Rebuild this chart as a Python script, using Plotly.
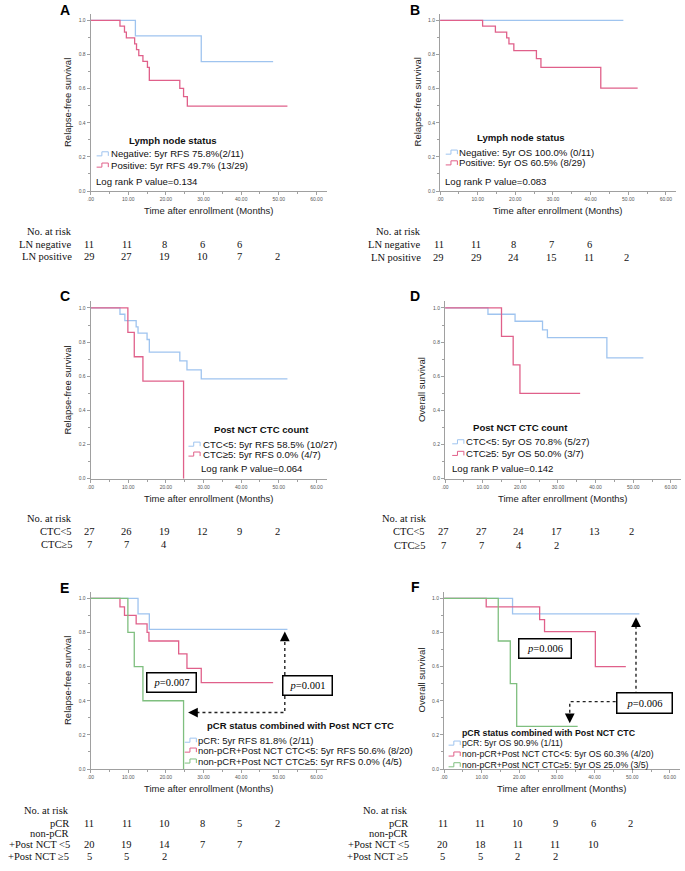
import plotly.graph_objects as go

W, H = 685, 871

# ---------------- data ----------------
# Panel A: RFS by lymph node status
A_neg_t = [0, 11.9, 29.4, 48.5]
A_neg_s = [1.0, 0.909, 0.758, 0.758]
A_pos_t = [0, 7.8, 9.0, 9.5, 11.7, 12.2, 12.8, 13.9, 15.1, 15.6, 23.7, 24.7, 25.7, 52.3]
A_pos_s = [1.0, 0.966, 0.931, 0.897, 0.862, 0.828, 0.793, 0.759, 0.724, 0.648, 0.601, 0.553, 0.497, 0.497]
# Panel B: OS by lymph node status
B_neg_t = [0, 48.7]
B_neg_s = [1.0, 1.0]
B_pos_t = [0, 11.3, 14.7, 17.7, 18.3, 19.6, 25.6, 26.8, 42.7, 52.5]
B_pos_s = [1.0, 0.966, 0.931, 0.897, 0.862, 0.822, 0.776, 0.724, 0.603, 0.603]
# Panel C: RFS by post NCT CTC count
C_lo_t = [0, 7.8, 9.1, 12.1, 12.6, 15.0, 15.6, 23.7, 25.6, 29.4, 52.3]
C_lo_s = [1.0, 0.963, 0.926, 0.889, 0.852, 0.815, 0.741, 0.690, 0.637, 0.585, 0.585]
C_hi_t = [0, 9.9, 11.6, 13.9, 24.7]
C_hi_s = [1.0, 0.857, 0.714, 0.571, 0.0]
# Panel D: OS by post NCT CTC count
D_lo_t = [0, 11.4, 18.6, 25.9, 27.2, 43.0, 52.7]
D_lo_s = [1.0, 0.963, 0.922, 0.872, 0.826, 0.708, 0.708]
D_hi_t = [0, 15.0, 18.1, 19.9, 35.9]
D_hi_s = [1.0, 0.833, 0.667, 0.5, 0.5]
# Panel E: RFS by pCR status combined with CTC
E_pcr_t = [0, 12.6, 15.6, 52.3]
E_pcr_s = [1.0, 0.909, 0.818, 0.818]
E_lo_t = [0, 7.8, 9.0, 12.1, 15.0, 15.5, 23.4, 25.6, 29.4, 48.5]
E_lo_s = [1.0, 0.95, 0.90, 0.85, 0.80, 0.75, 0.675, 0.59, 0.506, 0.506]
E_hi_t = [0, 9.9, 11.6, 13.9, 24.7]
E_hi_s = [1.0, 0.8, 0.6, 0.4, 0.0]
# Panel F: OS by pCR status combined with CTC
F_pcr_t = [0, 18.2, 51.9]
F_pcr_s = [1.0, 0.909, 0.909]
F_lo_t = [0, 11.2, 25.4, 26.7, 40.2, 48.3]
F_lo_s = [1.0, 0.95, 0.875, 0.805, 0.60, 0.60]
F_hi_t = [0, 14.4, 17.6, 19.3, 35.5]
F_hi_s = [1.0, 0.75, 0.5, 0.25, 0.25]

# risk tables
risk_months = [0, 10, 20, 30, 40, 50]
A_risk_neg = [11, 11, 8, 6, 6]
A_risk_pos = [29, 27, 19, 10, 7, 2]
B_risk_neg = [11, 11, 8, 7, 6]
B_risk_pos = [29, 29, 24, 15, 11, 2]
C_risk_lo = [27, 26, 19, 12, 9, 2]
C_risk_hi = [7, 7, 4]
D_risk_lo = [27, 27, 24, 17, 13, 2]
D_risk_hi = [7, 7, 4, 2]
E_risk_pcr = [11, 11, 10, 8, 5, 2]
E_risk_lo = [20, 19, 14, 7, 7]
E_risk_hi = [5, 5, 2]
F_risk_pcr = [11, 11, 10, 9, 6, 2]
F_risk_lo = [20, 18, 11, 11, 10]
F_risk_hi = [5, 5, 2, 2]

x_tickvals = [0, 10, 20, 30, 40, 50, 60]
x_ticktext = [".00", "10.00", "20.00", "30.00", "40.00", "50.00", "60.00"]
y_tickvals = [0, 0.2, 0.4, 0.6, 0.8, 1.0]
y_ticktext = ["0.0", "0.2", "0.4", "0.6", "0.8", "1.0"]

BLUE = "#9fc4ef"
RED = "#e0608a"
GREEN = "#7fbf7f"
SANS = "Liberation Sans, Arial, sans-serif"
SERIF = "Liberation Serif, Times New Roman, serif"
AXC = "#a0a0a0"


def PX(x):
    return x / W


def PY(y):
    return 1 - y / H


# panel geometry (pixels): x of month 0, y of value 0
panels = [
    dict(letter="A", x0=88, y0=191.7, ytitle="Relapse-free survival", lx=62, ly=10),
    dict(letter="B", x0=439, y0=191.7, ytitle="Relapse-free survival", lx=414, ly=10),
    dict(letter="C", x0=88, y0=480.3, ytitle="Relapse-free survival", lx=62, ly=297),
    dict(letter="D", x0=444, y0=480.3, ytitle="Overall survival", lx=414, ly=297),
    dict(letter="E", x0=88, y0=771.7, ytitle="Relapse-free survival", lx=62, ly=590),
    dict(letter="F", x0=443, y0=771.7, ytitle="Overall survival", lx=414, ly=589),
]
XMAX, YMAX = 62.7, 1.04
XW = 237.0
YH = 1.04 * 171.3

curves = [
    [(A_neg_t, A_neg_s, BLUE), (A_pos_t, A_pos_s, RED)],
    [(B_neg_t, B_neg_s, BLUE), (B_pos_t, B_pos_s, RED)],
    [(C_lo_t, C_lo_s, BLUE), (C_hi_t, C_hi_s, RED)],
    [(D_lo_t, D_lo_s, BLUE), (D_hi_t, D_hi_s, RED)],
    [(E_pcr_t, E_pcr_s, BLUE), (E_lo_t, E_lo_s, RED), (E_hi_t, E_hi_s, GREEN)],
    [(F_pcr_t, F_pcr_s, BLUE), (F_lo_t, F_lo_s, RED), (F_hi_t, F_hi_s, GREEN)],
]

fig = go.Figure()
annotations = []
shapes = []

for i, p in enumerate(panels):
    n = i + 1
    sx = "" if n == 1 else str(n)
    xref, yref = "x" + sx, "y" + sx
    for t, s, c in curves[i]:
        fig.add_trace(go.Scatter(x=t, y=s, mode="lines", line=dict(color=c, width=1.3, shape="hv"),
                                 xaxis=xref, yaxis=yref, hoverinfo="skip", showlegend=False))
    dom_x = [PX(p["x0"]), PX(p["x0"] + XW)]
    dom_y = [PY(p["y0"]), PY(p["y0"] - YH)]
    fig.layout["xaxis" + sx] = dict(
        domain=dom_x, range=[0, XMAX], anchor=yref, showgrid=False, zeroline=False,
        showline=True, linecolor=AXC, linewidth=1, ticks="outside", ticklen=3, tickcolor=AXC,
        tickmode="array", tickvals=x_tickvals, ticktext=x_ticktext,
        tickfont=dict(family=SANS, size=5, color="#555"),
        minor=dict(tickmode="array", tickvals=[5, 15, 25, 35, 45, 55], ticks="outside", ticklen=2, tickcolor=AXC),
        fixedrange=True)
    fig.layout["yaxis" + sx] = dict(
        domain=dom_y, range=[0, YMAX], anchor=xref, showgrid=False, zeroline=False,
        showline=True, linecolor=AXC, linewidth=1, ticks="outside", ticklen=3, tickcolor=AXC,
        tickmode="array", tickvals=y_tickvals, ticktext=y_ticktext,
        tickfont=dict(family=SANS, size=5, color="#555"),
        minor=dict(tickmode="array", tickvals=[0.1, 0.3, 0.5, 0.7, 0.9], ticks="outside", ticklen=2, tickcolor=AXC),
        fixedrange=True)
    # axis titles
    annotations.append(dict(text="Time after enrollment (Months)", xref=xref + " domain", yref="paper",
                            x=0.5, y=PY(p["y0"] + 20), xanchor="center", yanchor="middle", showarrow=False,
                            font=dict(family=SANS, size=9.5, color="#222")))
    annotations.append(dict(text=p["ytitle"], xref="paper", yref=yref + " domain",
                            x=PX(p["x0"] - 23), y=0.5, textangle=-90, xanchor="center", yanchor="middle",
                            showarrow=False, font=dict(family=SANS, size=9.5, color="#222")))
    annotations.append(dict(text="<b>" + p["letter"] + "</b>", xref="paper", yref="paper",
                            x=PX(p["lx"]), y=PY(p["ly"]), xanchor="center", yanchor="middle", showarrow=False,
                            font=dict(family=SANS, size=14, color="#000")))


def glyph(n, x0, y, color, w=3.1, h=0.024):
    sx = "" if n == 1 else str(n)
    x1 = x0 + w * 0.45
    x2 = x0 + w
    path = f"M {x0},{y - h/2} L {x1},{y - h/2} L {x1},{y + h/2} L {x2},{y + h/2} L {x2},{y - h/2}"
    shapes.append(dict(type="path", path=path, xref="x" + sx, yref="y" + sx,
                       line=dict(color=color, width=1)))


def legend(n, title, tx, ty, tanchor, entries, ex, gx, ys, size, logrank=None, tsize=None):
    sx = "" if n == 1 else str(n)
    xr, yr = "x" + sx, "y" + sx
    annotations.append(dict(text="<b>" + title + "</b>", xref=xr, yref=yr, x=tx, y=ty, xanchor=tanchor,
                            yanchor="middle", showarrow=False,
                            font=dict(family=SANS, size=tsize or size, color="#111")))
    for (txt, col), yy in zip(entries, ys):
        glyph(n, gx, yy, col)
        annotations.append(dict(text=txt, xref=xr, yref=yr, x=ex, y=yy, xanchor="left", yanchor="middle",
                                showarrow=False, font=dict(family=SANS, size=size, color="#111")))
    if logrank:
        annotations.append(dict(text=logrank[0], xref=xr, yref=yr, x=logrank[1], y=logrank[2],
                                xanchor="left", yanchor="middle", showarrow=False,
                                font=dict(family=SANS, size=size, color="#111")))


legend(1, "Lymph node status", 21.9, 0.296, "center",
       [("Negative: 5yr RFS 75.8%(2/11)", BLUE), ("Positive: 5yr RFS 49.7% (13/29)", RED)],
       4.8, 1.6, [0.218, 0.152], 9.6, ("Log rank P value=0.134", 1.0, 0.058))
legend(2, "Lymph node status", 21.5, 0.315, "center",
       [("Negative: 5yr OS 100.0% (0/11)", BLUE), ("Positive: 5yr OS 60.5% (8/29)", RED)],
       4.6, 1.5, [0.228, 0.165], 9.6, ("Log rank P value=0.083", 0.9, 0.058))
legend(3, "Post NCT CTC count", 45.5, 0.29, "center",
       [("CTC&lt;5: 5yr RFS 58.5% (10/27)", BLUE), ("CTC≥5: 5yr RFS 0.0% (4/7)", RED)],
       29.2, 26.0, [0.202, 0.144], 9.6, ("Log rank P value=0.064", 28.8, 0.062))
legend(4, "Post NCT CTC count", 20.1, 0.30, "center",
       [("CTC&lt;5: 5yr OS 70.8% (5/27)", BLUE), ("CTC≥5: 5yr OS 50.0% (3/7)", RED)],
       5.1, 1.9, [0.216, 0.148], 9.6, ("Log rank P value=0.142", 1.2, 0.062))
legend(5, "pCR status combined with Post NCT CTC", 30.3, 0.257, "left",
       [("pCR: 5yr RFS 81.8% (2/11)", BLUE),
        ("non-pCR+Post NCT CTC&lt;5: 5yr RFS 50.6% (8/20)", RED),
        ("non-pCR+Post NCT CTC≥5: 5yr RFS 0.0% (4/5)", GREEN)],
       28.1, 25.0, [0.169, 0.111, 0.047], 9.5)
legend(6, "pCR status combined with Post NCT CTC", 27.9, 0.214, "center",
       [("pCR: 5yr OS 90.9% (1/11)", BLUE),
        ("non-pCR+Post NCT CTC&lt;5: 5yr OS 60.3% (4/20)", RED),
        ("non-pCR+Post NCT CTC≥5: 5yr OS 25.0% (3/5)", GREEN)],
       4.3, 1.2, [0.152, 0.088, 0.025], 8.7, tsize=8.8)

# ---------- p-value boxes and dotted arrows (E, F) ----------
def pbox(n, x, y, w, h, label):
    sx = "" if n == 1 else str(n)
    annotations.append(dict(text="<i>p</i>=" + label,
                            xref="x" + sx, yref="y" + sx, x=x, y=y, xanchor="center", yanchor="middle",
                            showarrow=False, width=w, height=h, borderpad=0, bordercolor="#000",
                            borderwidth=1.5, bgcolor="#fff",
                            font=dict(family=SERIF, size=10.5, color="#000")))


def dotted(n, xs, ys):
    sx = "" if n == 1 else str(n)
    fig.add_trace(go.Scatter(x=xs, y=ys, mode="lines", line=dict(color="#222", width=1.4, dash="dot"),
                             xaxis="x" + sx, yaxis="y" + sx, hoverinfo="skip", showlegend=False))


def head(n, x, y, ax, ay):
    sx = "" if n == 1 else str(n)
    annotations.append(dict(text="", xref="x" + sx, yref="y" + sx, x=x, y=y, ax=ax, ay=ay,
                            showarrow=True, arrowhead=2, arrowsize=1.5, arrowwidth=1.3,
                            arrowcolor="#000", standoff=0))


dotted(5, [51.6, 51.6, 27.0], [0.78, 0.331, 0.331])
head(5, 51.6, 0.805, 0, 8)
head(5, 25.9, 0.331, 8, 0)
dotted(6, [51.0, 51.0], [0.40, 0.86])
dotted(6, [45.6, 33.4, 33.4], [0.395, 0.395, 0.29])
head(6, 51.0, 0.889, 0, 8)
head(6, 33.4, 0.268, 0, -8)

pbox(5, 21.4, 0.507, 48, 18, "0.007")
pbox(5, 57.5, 0.491, 48, 18, "0.001")
pbox(6, 26.75, 0.705, 51, 18, "0.006")
pbox(6, 53.25, 0.384, 54, 19, "0.006")

# ---------- risk tables ----------
def rtext(txt, x, y, anchor="right", xref="paper"):
    annotations.append(dict(text=txt, xref=xref, yref="paper", x=x, y=PY(y), xanchor=anchor,
                            yanchor="middle", showarrow=False,
                            font=dict(family=SERIF, size=10.5, color="#111")))


def rnums(n, vals, y):
    sx = "" if n == 1 else str(n)
    for m, v in zip(risk_months, vals):
        annotations.append(dict(text=str(v), xref="x" + sx, yref="paper", x=m, y=PY(y), xshift=-1.5,
                                xanchor="center", yanchor="middle", showarrow=False,
                                font=dict(family=SERIF, size=10.5, color="#111")))


# A
rtext("No. at risk", PX(71), 232)
rtext("LN negative", PX(71), 245)
rtext("LN positive", PX(71), 257.5)
rnums(1, A_risk_neg, 245)
rnums(1, A_risk_pos, 257.5)
# B
rtext("No. at risk", PX(422), 232)
rtext("LN negative", PX(422), 245.5)
rtext("LN positive", PX(422), 258)
rnums(2, B_risk_neg, 245.5)
rnums(2, B_risk_pos, 258)
# C
rtext("No. at risk", PX(71), 520)
rtext("CTC&lt;5", PX(71), 533)
rtext("CTC≥5", PX(71), 546)
rnums(3, C_risk_lo, 533)
rnums(3, C_risk_hi, 546)
# D
rtext("No. at risk", PX(428), 520)
rtext("CTC&lt;5", PX(426), 533)
rtext("CTC≥5", PX(426), 547)
rnums(4, D_risk_lo, 533)
rnums(4, D_risk_hi, 547)
# E
rtext("No. at risk", PX(68), 813)
rtext("pCR", PX(68), 826)
rtext("non-pCR", PX(68), 836)
rtext("+Post NCT &lt;5", PX(69), 847)
rtext("+Post NCT ≥5", PX(68), 859)
rnums(5, E_risk_pcr, 826)
rnums(5, E_risk_lo, 847)
rnums(5, E_risk_hi, 859)
# F
rtext("No. at risk", PX(409), 813)
rtext("pCR", PX(409), 826)
rtext("non-pCR", PX(409), 836)
rtext("+Post NCT &lt;5", PX(410), 847)
rtext("+Post NCT ≥5", PX(409), 859)
rnums(6, F_risk_pcr, 826)
rnums(6, F_risk_lo, 847)
rnums(6, F_risk_hi, 859)

fig.update_layout(width=W, height=H, margin=dict(l=0, r=0, t=0, b=0),
                  paper_bgcolor="#fff", plot_bgcolor="#fff", showlegend=False,
                  annotations=annotations, shapes=shapes)

fig.write_html("out.html", config={"displayModeBar": False},
               post_script="document.body.style.margin='0';document.body.style.overflow='hidden';")
